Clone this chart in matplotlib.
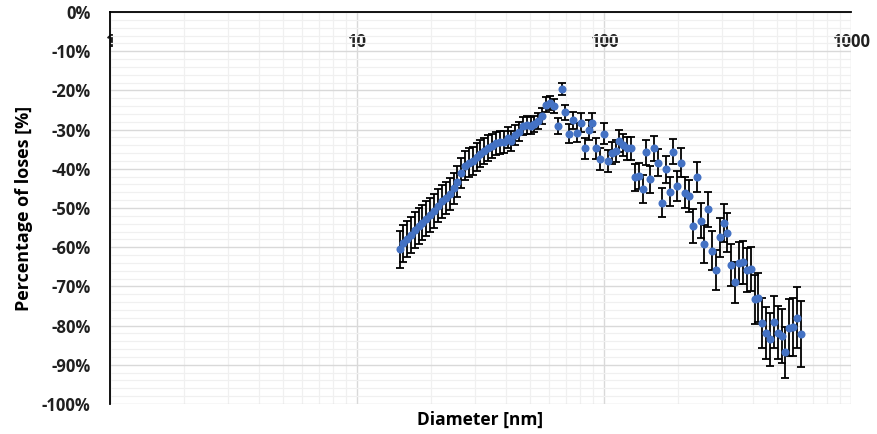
import matplotlib
matplotlib.use("Agg")
import matplotlib.pyplot as plt
from matplotlib.ticker import FixedLocator, MultipleLocator, FuncFormatter, NullFormatter

# ============================================================
# DATA
# ============================================================

diameter_nm = [
    14.9, 15.4, 16.0, 16.5, 17.2, 17.8, 18.4, 19.1, 19.8, 20.5,
    21.3, 22.1, 22.9, 23.7, 24.6, 25.5, 26.4, 27.4, 28.4, 29.4,
    30.5, 31.6, 32.8, 34.0, 35.2, 36.5, 37.9, 39.2, 40.7, 42.2,
    43.7, 45.3, 47.0, 48.7, 50.5, 52.3, 54.2, 56.2, 58.3, 60.4,
    62.6, 64.9, 67.3, 69.8, 72.3, 75.0, 77.7, 80.6, 83.5, 86.6,
    89.8, 93.1, 96.5, 100.0, 103.7, 107.5, 111.4, 115.5, 119.7, 124.1,
    128.6, 133.3, 138.2, 143.3, 148.6, 154.0, 159.6, 165.5, 171.5, 177.8,
    184.3, 191.1, 198.1, 205.4, 212.9, 220.7, 228.8, 237.2, 245.9, 254.8,
    264.2, 273.8, 283.9, 294.3, 305.1, 316.2, 327.8, 339.8, 352.3, 365.2,
    378.6, 392.4, 406.8, 421.7, 437.1, 453.2, 469.8, 487.0, 504.8, 523.3,
    542.5, 562.3, 583.1, 604.3, 626.4,
]

loss_pct = [
    -60.5, -59.0, -57.8, -56.9, -55.6, -54.6, -53.7, -52.7, -51.8, -50.7,
    -49.4, -48.3, -47.4, -46.4, -45.0, -43.3, -41.0, -39.2, -38.5, -38.0,
    -37.0, -36.1, -35.4, -34.7, -34.2, -33.5, -33.2, -33.2, -32.1, -32.9,
    -31.4, -30.5, -29.0, -28.8, -29.0, -28.6, -27.8, -26.5, -23.7, -23.2,
    -23.9, -29.0, -19.7, -25.6, -31.0, -27.6, -30.8, -28.2, -34.8, -30.1,
    -28.2, -34.8, -37.5, -31.1, -37.9, -35.9, -35.4, -32.9, -33.9, -34.8,
    -34.8, -42.2, -41.8, -45.2, -35.8, -42.7, -34.8, -38.4, -48.6, -40.1,
    -45.8, -35.6, -44.4, -38.4, -46.1, -46.9, -54.6, -42.0, -53.2, -59.2,
    -50.3, -60.9, -65.8, -57.5, -53.9, -56.3, -64.5, -69.0, -64.1, -63.9,
    -65.8, -65.6, -73.3, -72.9, -79.3, -81.8, -83.5, -79.1, -81.8, -82.6,
    -86.8, -80.5, -80.3, -78.0, -82.2,
]

loss_err = [
    4.7, 4.7, 4.6, 4.6, 4.5, 4.5, 4.4, 4.4, 4.3, 4.3,
    4.2, 4.2, 4.1, 4.1, 4.0, 3.9, 3.8, 3.7, 3.7, 3.6,
    3.5, 3.4, 3.3, 3.2, 3.1, 3.0, 2.9, 2.8, 2.7, 2.6,
    2.5, 2.4, 2.3, 2.2, 2.2, 2.1, 2.0, 2.0, 1.9, 1.8,
    1.8, 2.0, 1.6, 2.0, 2.4, 2.2, 2.4, 2.4, 2.6, 2.5,
    2.5, 2.7, 2.7, 2.7, 2.8, 2.8, 2.8, 2.8, 2.9, 2.9,
    3.0, 3.4, 3.4, 3.5, 3.2, 3.5, 3.2, 3.4, 3.8, 3.4,
    3.7, 3.3, 3.8, 3.6, 4.0, 4.0, 4.3, 3.8, 4.4, 4.8,
    4.5, 5.0, 5.1, 4.9, 4.8, 5.0, 5.3, 5.3, 5.3, 5.4,
    5.6, 5.7, 6.2, 6.2, 6.4, 6.6, 6.7, 6.6, 6.8, 6.9,
    6.5, 7.2, 7.4, 7.8, 8.4,
]

x_major_ticks = [1, 10, 100, 1000]
x_tick_labels = ["1", "10", "100", "1000"]
x_minor_ticks = [m * d for d in (1, 10, 100) for m in range(2, 10)]

# ============================================================
# PLOT
# ============================================================

plt.rcParams["font.family"] = ["Open Sans", "DejaVu Sans"]
plt.rcParams["font.weight"] = "bold"

fig = plt.figure(figsize=(8.78, 4.34), dpi=100)
ax = fig.add_axes([110 / 878, 30 / 434, 741 / 878, 392 / 434])

ax.errorbar(diameter_nm, loss_pct, yerr=loss_err, fmt="none",
            ecolor="black", elinewidth=1.3, capsize=3, capthick=1.3, zorder=3)
ax.plot(diameter_nm, loss_pct, "o", color="#4472C4", markersize=5.8,
        markeredgewidth=0, zorder=4)

ax.set_xscale("log")
ax.set_xlim(1, 1000)
ax.set_ylim(-100, 0)

ax.xaxis.set_major_locator(FixedLocator(x_major_ticks))
ax.xaxis.set_major_formatter(FuncFormatter(lambda v, p: x_tick_labels[x_major_ticks.index(v)] if v in x_major_ticks else ""))
ax.xaxis.set_minor_locator(FixedLocator(x_minor_ticks))
ax.xaxis.set_minor_formatter(NullFormatter())

ax.yaxis.set_major_locator(MultipleLocator(10))
ax.yaxis.set_minor_locator(MultipleLocator(2))
ax.yaxis.set_major_formatter(FuncFormatter(lambda v, p: f"{v:.0f}%"))

ax.grid(which="major", color="#D9D9D9", linewidth=1.0, zorder=0)
ax.grid(which="minor", color="#F0F0F0", linewidth=0.9, zorder=0)
ax.set_axisbelow(True)

ax.tick_params(axis="x", which="both", length=0, bottom=False, labelbottom=False,
               top=False, labeltop=True, pad=-28, labelsize=12, labelcolor="#202020")
ax.tick_params(axis="y", which="both", length=0, pad=14, labelsize=12,
               labelcolor="#202020")

for side in ("bottom", "right"):
    ax.spines[side].set_visible(False)
for side in ("top", "left"):
    ax.spines[side].set_color("black")
    ax.spines[side].set_linewidth(1.3)

ax.set_xlabel("Diameter [nm]", fontsize=12.5, fontweight="bold", labelpad=5)
ax.set_ylabel("Percentage of loses [%]", fontsize=13, fontweight="bold", labelpad=6)

fig.savefig("out.png", dpi=100)
